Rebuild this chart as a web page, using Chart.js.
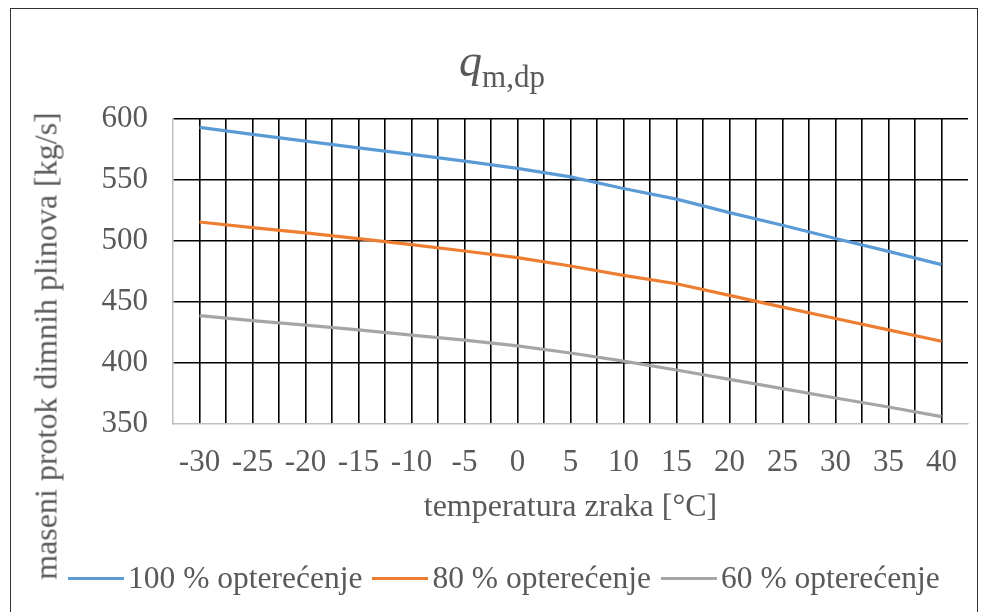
<!DOCTYPE html>
<html>
<head>
<meta charset="utf-8">
<title>q m,dp</title>
<script src="https://cdn.jsdelivr.net/npm/chart.js@4.4.1/dist/chart.umd.min.js"></script>
<style>
  html, body { margin: 0; padding: 0; background: #fff; }
  #wrap { position: relative; width: 982px; height: 612px; overflow: hidden;
          font-family: "Liberation Serif", "Times New Roman", serif; color: #595959; }
  #frame { position: absolute; left: 10px; top: 8px; width: 968px; height: 640px;
           border: 1px solid #333; box-sizing: border-box; }
  #chart { position: absolute; left: 0; top: 0; }
  #title { position: absolute; left: 11px; top: 38px; width: 982px; text-align: center;
           font-size: 46px; line-height: 46px; white-space: nowrap; }
  #title .sub { font-size: 31px; position: relative; top: 11px; }
  #ytitle { position: absolute; left: 46px; top: 346px; font-size: 32px; white-space: nowrap;
            transform: translate(-50%, -50%) rotate(-90deg); }
  #legend { position: absolute; left: 68px; top: 560px; height: 36px; display: flex;
            align-items: center; font-size: 31.5px; white-space: nowrap; }
  #legend .item { display: flex; align-items: center; margin-right: 10px; }
  #legend .swatch { width: 56px; height: 3px; margin-right: 4px; }
</style>
</head>
<body>
<div id="wrap">
  <div id="frame"></div>
  <canvas id="chart" width="982" height="612"></canvas>
  <div id="title"><i>q</i><span class="sub">m,dp</span></div>
  <div id="ytitle">maseni protok dimnih plinova [kg/s]</div>
  <div id="legend"></div>
</div>
<script>
// --- Data ---
const temps = [-30, -25, -20, -15, -10, -5, 0, 5, 10, 15, 20, 25, 30, 35, 40];
const load100 = [593.2, 587.4, 581.9, 576.4, 571.0, 565.5, 559.5, 552.6, 543.0, 534.3, 523.3, 512.9, 502.0, 491.5, 480.6];
const load80  = [515.6, 511.0, 506.6, 502.0, 497.0, 491.8, 486.4, 479.5, 471.8, 465.0, 455.4, 445.8, 436.5, 427.2, 417.8];
const load60  = [438.9, 434.8, 431.0, 427.2, 422.8, 418.7, 414.1, 408.2, 401.5, 394.3, 386.6, 379.0, 371.3, 363.9, 356.0];
const seriesNames = ['100 % opterećenje', '80 % opterećenje', '60 % opterećenje'];
const seriesColors = ['#5B9BD5', '#ED7D31', '#A5A5A5'];
const yMin = 350, yMax = 600, yStep = 50;
const xMin = -32.5, xMax = 42.5, xStep = 2.5;

const FONT = '"Liberation Serif", "Times New Roman", serif';
const TXT = '#595959';

function pts(vals) {
  return temps.map((t, i) => ({x: t, y: vals[i]}));
}

const datasets = [load100, load80, load60].map((vals, i) => ({
  label: seriesNames[i],
  data: pts(vals),
  borderColor: seriesColors[i],
  backgroundColor: seriesColors[i],
  borderWidth: 3.2,
  pointRadius: 0,
  tension: 0,
  fill: false
}));

new Chart(document.getElementById('chart').getContext('2d'), {
  type: 'line',
  data: {datasets: datasets},
  options: {
    responsive: false,
    animation: false,
    layout: {padding: {left: 0, right: 14, top: 119, bottom: 85}},
    plugins: {legend: {display: false}, tooltip: {enabled: false}},
    scales: {
      x: {
        type: 'linear', min: xMin, max: xMax,
        ticks: {
          stepSize: xStep, autoSkip: false, maxRotation: 0, minRotation: 0, padding: 20,
          color: TXT, font: {family: FONT, size: 31},
          callback: v => (v % 5 === 0 && v >= temps[0] && v <= temps[temps.length - 1]) ? String(v) : ''
        },
        grid: {
          drawTicks: false, lineWidth: 1.6,
          color: c => (c.tick && (c.tick.value === xMin || c.tick.value === xMax)) ? 'rgba(0,0,0,0)' : '#000'
        },
        border: {display: true, color: '#BFBFBF', width: 1.5},
        title: {display: true, text: 'temperatura zraka [°C]', color: TXT,
                font: {family: FONT, size: 32}, padding: {top: 0, bottom: 0}},
        afterFit: s => { s.height = 103; s.paddingLeft = 0; s.paddingRight = 0; }
      },
      y: {
        min: yMin, max: yMax,
        ticks: {stepSize: yStep, padding: 25, color: TXT, font: {family: FONT, size: 31}},
        grid: {
          drawTicks: false, lineWidth: 1.6,
          color: c => (c.tick && c.tick.value === yMin) ? 'rgba(0,0,0,0)' : '#000'
        },
        border: {display: true, color: '#BFBFBF', width: 1.5},
        afterFit: s => { s.width = 173; s.paddingTop = 0; s.paddingBottom = 0; }
      }
    }
  }
});

// --- Legend ---
const legendEl = document.getElementById('legend');
seriesNames.forEach((name, i) => {
  const item = document.createElement('div');
  item.className = 'item';
  item.innerHTML = '<span class="swatch" style="background:' + seriesColors[i] + '"></span><span>' + name + '</span>';
  legendEl.appendChild(item);
});
</script>
</body>
</html>
